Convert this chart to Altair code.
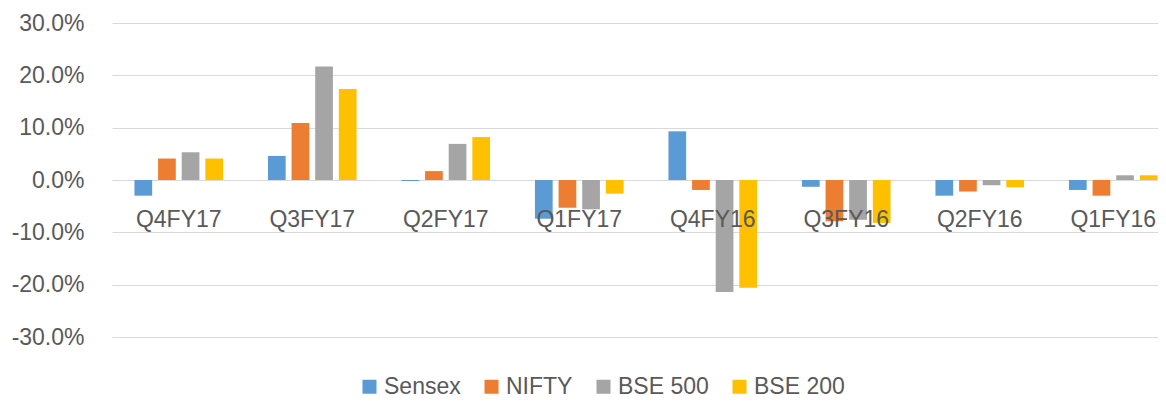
import altair as alt
import pandas as pd

quarters = ["Q4FY17", "Q3FY17", "Q2FY17", "Q1FY17", "Q4FY16", "Q3FY16", "Q2FY16", "Q1FY16"]
series = ["Sensex", "NIFTY", "BSE 500", "BSE 200"]
sensex = [-3.0, 4.6, -0.2, -7.4, 9.3, -1.3, -3.0, -1.9]
nifty = [4.1, 10.9, 1.7, -5.3, -1.9, -7.9, -2.2, -3.0]
bse500 = [5.3, 21.7, 6.9, -5.6, -21.4, -7.6, -1.0, 0.9]
bse200 = [4.1, 17.4, 8.2, -2.6, -20.6, -8.2, -1.4, 0.9]
colors = ["#5B9BD5", "#ED7D31", "#A5A5A5", "#FFC000"]

rows = []
for name, vals in zip(series, [sensex, nifty, bse500, bse200]):
    for q, v in zip(quarters, vals):
        rows.append({"Quarter": q, "Index": name, "Return": v / 100.0})
df = pd.DataFrame(rows)

FONT = "Liberation Sans"
TXT = "#595959"

chart = alt.Chart(df).mark_bar().encode(
    x=alt.X(
        "Quarter:N",
        sort=quarters,
        scale=alt.Scale(range=[0, 1068], paddingInner=0, paddingOuter=0),
        axis=alt.Axis(
            title=None, domain=False, ticks=False, grid=False, labelAngle=0,
            labelFont=FONT, labelFontSize=23, labelColor=TXT,
            labelBaseline="alphabetic", labelPadding=46, offset=-157,
            zindex=2,
        ),
    ),
    xOffset=alt.XOffset(
        "Index:N", sort=series,
        scale=alt.Scale(paddingInner=0.25, paddingOuter=0.95),
    ),
    y=alt.Y(
        "Return:Q",
        scale=alt.Scale(domain=[-0.3, 0.3], nice=False),
        axis=alt.Axis(
            title=None, format=".1%", values=[-0.3, -0.2, -0.1, 0, 0.1, 0.2, 0.3],
            labelExpr="replace(datum.label, '\u2212', '-')",
            domain=False, ticks=False, grid=True, gridColor="#d9d9d9", gridWidth=1,
            labelFont=FONT, labelFontSize=23, labelColor=TXT, labelPadding=28,
        ),
    ),
    color=alt.Color(
        "Index:N", sort=series,
        scale=alt.Scale(domain=series, range=colors),
        legend=alt.Legend(
            title=None, orient="none", direction="horizontal",
            legendX=246, legendY=352, symbolType="square", symbolSize=196,
            symbolStrokeWidth=0, labelFont=FONT, labelFontSize=23, labelColor=TXT,
            labelOffset=3, columnPadding=19, padding=0,
        ),
    ),
).properties(
    width=1046,
    height=314,
    autosize=alt.AutoSizeParams(type="none"),
    padding={"left": 104, "top": 15, "right": 0, "bottom": 63},
).configure_view(stroke=None)

chart.save("out.html", embed_options={"renderer": "svg", "actions": False})
